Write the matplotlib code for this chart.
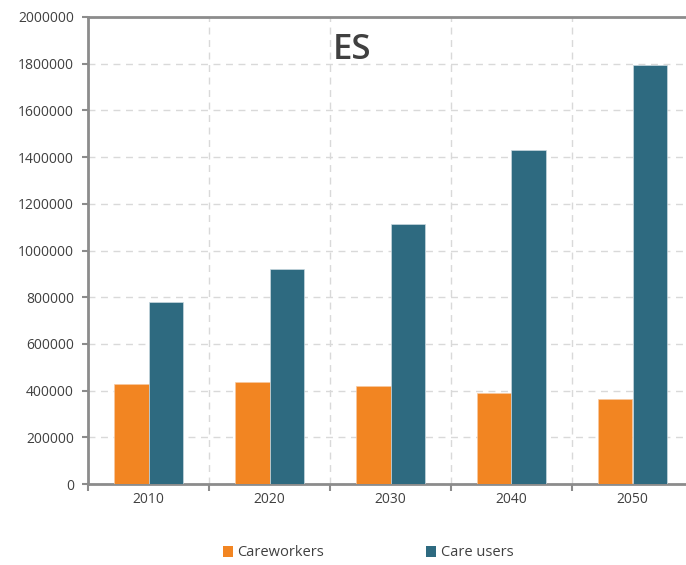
import matplotlib
matplotlib.use("Agg")
import matplotlib.pyplot as plt
import numpy as np
from matplotlib.patches import Patch

years = ["2010", "2020", "2030", "2040", "2050"]
careworkers = [428000, 435000, 421000, 390000, 363000]
care_users = [779000, 920000, 1113000, 1432000, 1794000]
y_ticks = [0, 200000, 400000, 600000, 800000, 1000000, 1200000,
           1400000, 1600000, 1800000, 2000000]

ORANGE = "#F28522"
TEAL = "#2E6A80"
TEXT = "#404040"
SPINE = "#8C8C8C"
GRID = "#D9D9D9"

plt.rcParams["font.family"] = ["Open Sans", "DejaVu Sans"]

fig = plt.figure(figsize=(6.86, 5.65), dpi=100)
ax = fig.add_axes([88 / 686, 81 / 565, 605 / 686, 467 / 565])

x = np.arange(len(years))
w = 0.285
ax.bar(x - w / 2, careworkers, w, color=ORANGE, edgecolor="#F7C9A0",
       linewidth=0.5, zorder=3)
ax.bar(x + w / 2, care_users, w, color=TEAL, edgecolor="#C9D9DF",
       linewidth=0.5, zorder=3)

ax.set_xlim(-0.5, len(years) - 0.5)
ax.set_ylim(0, 2000000)
ax.set_yticks(y_ticks)
ax.set_yticklabels([str(v) for v in y_ticks])

# category labels at centres, tick marks at category boundaries
ax.set_xticks(x)
ax.set_xticklabels(years)
ax.set_xticks(np.arange(-0.5, len(years) + 0.5, 1), minor=True)
ax.tick_params(axis="x", which="major", length=0, pad=6,
               labelsize=10, labelcolor=TEXT)
ax.tick_params(axis="x", which="minor", length=5, width=1.5,
               color=SPINE, direction="out")
ax.tick_params(axis="y", length=4, width=1.5, color=SPINE, pad=6,
               labelsize=10, labelcolor=TEXT)

ax.grid(axis="y", which="major", color=GRID, linestyle=(0, (5, 4)),
        linewidth=1, zorder=0)
ax.grid(axis="x", which="minor", color=GRID, linestyle=(0, (5, 4)),
        linewidth=1, zorder=0)

for side in ["left", "bottom", "top"]:
    ax.spines[side].set_color(SPINE)
    ax.spines[side].set_linewidth(2)
ax.spines["right"].set_visible(False)

fig.text(352 / 686, 1 - 50 / 565, "ES", ha="center", va="center",
         fontsize=25, fontweight="semibold", color=TEXT)

handles = [Patch(facecolor=ORANGE, label="Careworkers"),
           Patch(facecolor=TEAL, label="Care users")]
fig.legend(handles=handles, loc="center", bbox_to_anchor=(368 / 686, 1 - 553 / 565),
           ncol=2, frameon=False, fontsize=10.5, labelcolor=TEXT,
           handlelength=0.7, handleheight=0.7, handletextpad=0.3,
           columnspacing=7.0)

fig.savefig("out.png", dpi=100)
